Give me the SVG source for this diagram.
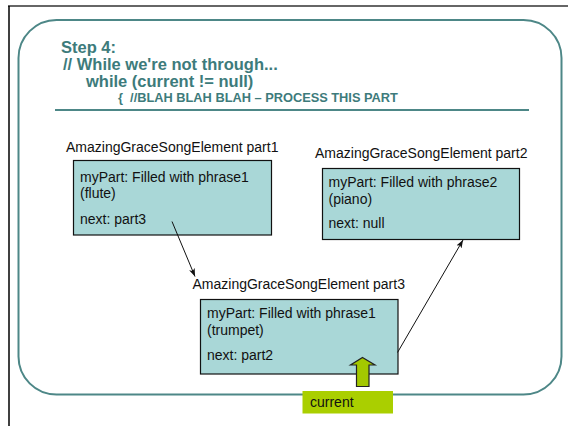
<svg xmlns="http://www.w3.org/2000/svg" width="568" height="426" viewBox="0 0 568 426">
  <style>
    .hdr { font-family: "Liberation Sans", Arial, sans-serif; font-weight: bold; fill: #3d7b7b; }
    .lbl { font-family: "Liberation Sans", Arial, sans-serif; font-size: 14px; fill: #111; }
    .box { fill: #a9d7d7; stroke: #111; stroke-width: 1.2; }
    .link { fill: none; stroke: #111; stroke-width: 1; }
  </style>
  <defs>
    <marker id="head" markerUnits="userSpaceOnUse" markerWidth="9" markerHeight="7" refX="8" refY="3.5" orient="auto">
      <path d="M0,0.5 L8,3.5 L0,6.5 L2,3.5 z" fill="#111"/>
    </marker>
  </defs>

  <!-- page frame -->
  <rect x="0" y="0" width="568" height="426" fill="#fff"/>
  <line x1="8" y1="6" x2="568" y2="6" stroke="#666" stroke-width="2"/>
  <line x1="9" y1="6" x2="9" y2="426" stroke="#000" stroke-width="1.5"/>

  <!-- rounded slide panel -->
  <rect x="18.5" y="20" width="543" height="374.5" rx="38" ry="38" fill="none" stroke="#4d8787" stroke-width="2"/>

  <!-- heading -->
  <g id="heading">
    <text class="hdr" x="61" y="53" font-size="16.5">Step 4:</text>
    <text class="hdr" x="63" y="70" font-size="16.5">// While we're not through...</text>
    <text class="hdr" x="86" y="87" font-size="16.5">while (current != null)</text>
    <text class="hdr" x="118" y="102" font-size="12.8" xml:space="preserve">{  //BLAH BLAH BLAH – PROCESS THIS PART</text>
    <line x1="55" y1="110" x2="529" y2="110" stroke="#4d8787" stroke-width="2"/>
  </g>

  <!-- list element part1 -->
  <g id="part1">
    <text class="lbl" x="66" y="151.5">AmazingGraceSongElement part1</text>
    <rect class="box" x="73.5" y="160.5" width="198" height="74.5"/>
    <text class="lbl" x="80" y="181.5">myPart: Filled with phrase1</text>
    <text class="lbl" x="80" y="198">(flute)</text>
    <text class="lbl" x="80" y="223.5">next: part3</text>
  </g>

  <!-- list element part2 -->
  <g id="part2">
    <text class="lbl" x="315" y="157.5">AmazingGraceSongElement part2</text>
    <rect class="box" x="322.5" y="168.5" width="197" height="71"/>
    <text class="lbl" x="328.5" y="186.5">myPart: Filled with phrase2</text>
    <text class="lbl" x="328.5" y="204">(piano)</text>
    <text class="lbl" x="328.5" y="227.5">next: null</text>
  </g>

  <!-- list element part3 -->
  <g id="part3">
    <text class="lbl" x="192.5" y="289">AmazingGraceSongElement part3</text>
    <rect class="box" x="200.5" y="299.5" width="197.5" height="74.5"/>
    <text class="lbl" x="207" y="318">myPart: Filled with phrase1</text>
    <text class="lbl" x="207" y="334.5">(trumpet)</text>
    <text class="lbl" x="207" y="360">next: part2</text>
  </g>

  <!-- current reference -->
  <g id="current">
    <rect x="302.5" y="391" width="90.5" height="22.5" fill="#aacf00"/>
    <text class="lbl" x="310" y="406.5">current</text>
  </g>

  <!-- next links and the current pointer -->
  <g id="connectors">
    <line class="link" x1="172" y1="221.5" x2="195" y2="276.5" marker-end="url(#head)"/>
    <line class="link" x1="397.5" y1="352.5" x2="463" y2="240" marker-end="url(#head)"/>
    <polygon points="362.5,357.5 375,365 369,365 369,386.5 356.5,386.5 356.5,365 350.5,365" fill="#a3c800" stroke="#222" stroke-width="1.2" stroke-linejoin="miter"/>
  </g>
</svg>
